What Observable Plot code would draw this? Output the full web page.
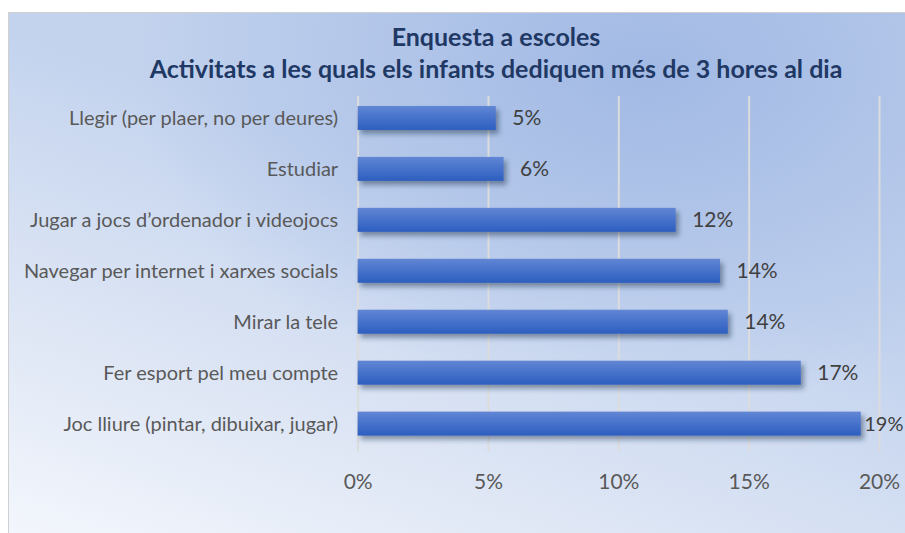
<!DOCTYPE html>
<html>
<head>
<meta charset="utf-8">
<script src="https://cdn.jsdelivr.net/npm/d3@7"></script>
<script src="https://cdn.jsdelivr.net/npm/@observablehq/plot@0.6"></script>
<style>
  html, body { margin: 0; padding: 0; background: #fff; }
  body { width: 905px; height: 533px; overflow: hidden; position: relative; font-family: Lato, "Open Sans", sans-serif; }
  #card {
    position: absolute; left: 8px; top: 12px; width: 897px; height: 521px;
    border-left: 1px solid #d0d0d0; border-top: 1px solid #d0d0d0; box-sizing: border-box;
    background:
      radial-gradient(ellipse 520px 330px at 640px 60px, rgba(160,184,228,0.95), rgba(160,184,228,0) 100%),
      linear-gradient(20deg, #f3f6fc 0%, #dbe4f4 30%, #c3d3ee 60%, #bfcfec 100%);
  }
  #title { height: 69px; text-align: center; color: #1f3864; font-weight: 700; font-size: 25px; line-height: 32px; padding-top: 7px; box-sizing: border-box; }
  #title div { transform: translateX(39px); }
  svg { display: block; background: transparent; }
</style>
</head>
<body>
<div id="card">
  <div id="title"><div>Enquesta a escoles</div><div>Activitats a les quals els infants dediquen més de 3 hores al dia</div></div>
  <div id="chart"></div>
</div>
<script>
const categories = [
  "Llegir (per plaer, no per deures)",
  "Estudiar",
  "Jugar a jocs d’ordenador i videojocs",
  "Navegar per internet i xarxes socials",
  "Mirar la tele",
  "Fer esport pel meu compte",
  "Joc lliure (pintar, dibuixar, jugar)"
];
const values = [5.3, 5.6, 12.2, 13.9, 14.2, 17.0, 19.3];
const xTicks = [0, 5, 10, 15, 20];

const data = categories.map((c, i) => ({category: c, value: values[i]}));

const chart = Plot.plot({
  width: 897,
  height: 452,
  marginTop: 8,
  marginBottom: 82,
  marginLeft: 349,
  marginRight: 26,
  style: {background: "transparent", fontFamily: "Lato, 'Open Sans', sans-serif", color: "#595959"},
  x: {domain: [0, 20], label: null},
  y: {domain: categories, paddingInner: 0.52, paddingOuter: 0.26, label: null},
  marks: [
    Plot.ruleX(xTicks, {stroke: "#dcdcdc", strokeWidth: 2, insetTop: 6}),
    Plot.barX(data, {x: "value", y: "category", fill: "url(#barGrad)"}),
    Plot.text(data.filter(d => d.value < 19), {x: "value", y: "category", text: d => Math.round(d.value) + "%", textAnchor: "start", dx: 16, fontSize: 21, fill: "#404040"}),
    Plot.text(data.filter(d => d.value >= 19), {x: "value", y: "category", text: d => Math.round(d.value) + "%", textAnchor: "start", dx: 3, fontSize: 20, fill: "#404040"}),
    Plot.axisY({tickSize: 0, tickPadding: 20, fontSize: 20, fill: "#595959"}),
    Plot.axisX({ticks: xTicks, tickFormat: d => d + "%", tickSize: 0, tickPadding: 22, fontSize: 21, fill: "#595959", anchor: "bottom", label: null})
  ]
});

const ns = "http://www.w3.org/2000/svg";
const defs = document.createElementNS(ns, "defs");
defs.innerHTML = `
  <linearGradient id="barGrad" x1="0" y1="0" x2="0" y2="1">
    <stop offset="0" stop-color="#6286d4"/>
    <stop offset="0.5" stop-color="#4672cb"/>
    <stop offset="1" stop-color="#2d5ebf"/>
  </linearGradient>
  <filter id="shadow" x="-5%" y="-30%" width="115%" height="190%">
    <feDropShadow dx="3" dy="4" stdDeviation="2.5" flood-color="#1f2a44" flood-opacity="0.45"/>
  </filter>`;
chart.insertBefore(defs, chart.firstChild);
chart.querySelectorAll("g[aria-label='bar'] rect").forEach(r => r.setAttribute("filter", "url(#shadow)"));
document.getElementById("chart").appendChild(chart);
</script>
</body>
</html>
